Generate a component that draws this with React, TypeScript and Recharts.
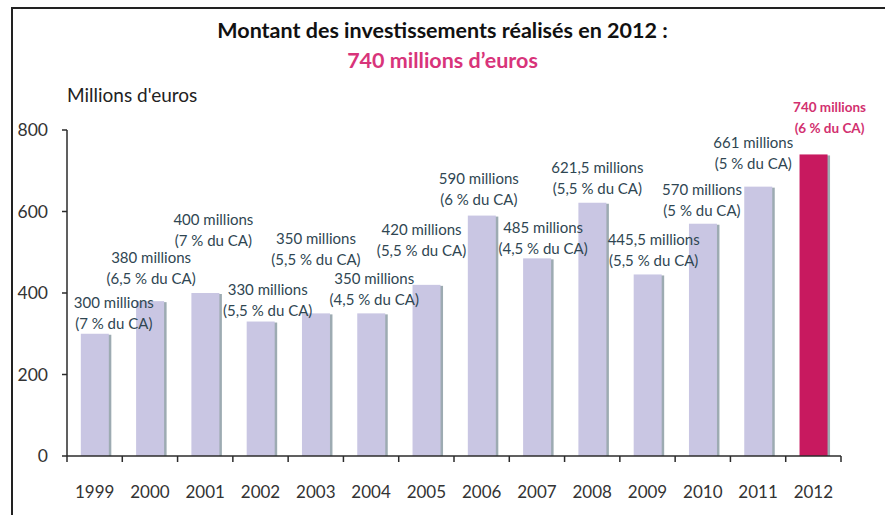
import { BarChart, Bar, XAxis, YAxis, Cell, LabelList } from 'recharts';

const years = ['1999', '2000', '2001', '2002', '2003', '2004', '2005', '2006', '2007', '2008', '2009', '2010', '2011', '2012'];
const amounts = [300, 380, 400, 330, 350, 350, 420, 590, 485, 621.5, 445.5, 570, 661, 740];
const sharesOfCA = ['7', '6,5', '7', '5,5', '5,5', '4,5', '5,5', '6', '4,5', '5,5', '5,5', '5', '5', '6'];
const yTicks = [0, 200, 400, 600, 800];

// hand-placed label offsets (dx from bar centre, dy of first line from bar top), like the original
const labelNudge: [number, number][] = [
  [19, -32], [1, -44], [8, -74], [7, -33], [0, -75], [3, -35], [-5, -56],
  [-3, -38], [6, -31], [5, -36], [6, -35], [-1, -35], [-5, -45], [16, -47],
];

const data = years.map((year, i) => ({ year, value: amounts[i] }));

const LAVENDER = '#c9c6e3';
const PINK = '#c8195f';
const TEXT = '#2f4652';
const AXIS = '#2b2b2b';
const FONT = 'Lato, "Open Sans", sans-serif';

const isLast = (i: number) => i === years.length - 1;

function ShadowBar(props: any) {
  const { x, y, width, height, fill } = props;
  if (!height || height <= 0) return null;
  return (
    <g>
      <rect x={x + 2.5} y={y + 1} width={width} height={height - 1} fill="#8c9ca4" opacity={0.85} />
      <rect x={x} y={y} width={width} height={height} fill={fill} />
    </g>
  );
}

function BarLabel(props: any) {
  const { x, y, width, index } = props;
  const [dx, dy] = labelNudge[index];
  const cx = x + width / 2 + dx;
  const cy = y + dy;
  const last = isLast(index);
  const amount = String(amounts[index]).replace('.', ',');
  const style = {
    fontFamily: FONT,
    fontSize: last ? 13.5 : 15,
    fontWeight: last ? 700 : 400,
    fill: last ? '#d2306f' : TEXT,
  };
  return (
    <g>
      <text x={cx} y={cy} textAnchor="middle" dominantBaseline="central" style={style}>
        {amount} millions
      </text>
      <text x={cx} y={cy + 21} textAnchor="middle" dominantBaseline="central" style={style}>
        ({sharesOfCA[index]} % du CA)
      </text>
    </g>
  );
}

function YearTick(props: any) {
  const { x, y, payload, index } = props;
  const half = payload.offset ?? 774 / 28;
  return (
    <g>
      <line x1={x - half} x2={x - half} y1={y} y2={y + 6} stroke={AXIS} strokeWidth={1.5} />
      {isLast(index) && <line x1={x + half} x2={x + half} y1={y} y2={y + 6} stroke={AXIS} strokeWidth={1.5} />}
      <text x={x} y={y + 35} textAnchor="middle" dominantBaseline="central"
        style={{ fontFamily: FONT, fontSize: 17, fill: '#333' }}>
        {payload.value}
      </text>
    </g>
  );
}

export default function App() {
  return (
    <div style={{
      position: 'absolute', left: 0, top: 0, width: 885, height: 515,
      background: '#fff', overflow: 'hidden', fontFamily: FONT,
    }}>
      <div style={{
        position: 'absolute', left: 11, top: 7, width: 900, height: 540,
        border: '2px solid #222', boxSizing: 'border-box', pointerEvents: 'none',
      }} />

      <div style={{ position: 'absolute', left: 0, width: 885, top: 16, textAlign: 'center' }}>
        <div style={{ fontSize: 21.5, fontWeight: 700, color: '#111', lineHeight: '28px' }}>
          Montant des investissements réalisés en 2012 :
        </div>
        <div style={{ fontSize: 21.5, fontWeight: 700, color: '#d8347a', lineHeight: '28px', marginTop: 2 }}>
          740 millions d’euros
        </div>
      </div>

      <div style={{ position: 'absolute', left: 67, top: 83, fontSize: 19, lineHeight: '24px', color: '#222' }}>
        Millions d'euros
      </div>

      <BarChart
        width={885}
        height={515}
        data={data}
        margin={{ top: 130, right: 44, bottom: 0, left: 12 }}
        barCategoryGap="25%"
      >
        <XAxis
          dataKey="year"
          height={59}
          interval={0}
          tickLine={false}
          tickSize={0}
          tickMargin={0}
          axisLine={{ stroke: AXIS, strokeWidth: 1.5 }}
          tick={<YearTick />}
        />
        <YAxis
          width={55}
          domain={[0, 800]}
          ticks={yTicks}
          interval={0}
          axisLine={{ stroke: AXIS, strokeWidth: 1.5 }}
          tickLine={{ stroke: AXIS, strokeWidth: 1.5 }}
          tickSize={5}
          tickMargin={14}
          tick={{ fontFamily: FONT, fontSize: 17.5, fill: '#333' }}
        />
        <Bar dataKey="value" shape={<ShadowBar />} isAnimationActive={false}>
          {data.map((d, i) => (
            <Cell key={d.year} fill={isLast(i) ? PINK : LAVENDER} />
          ))}
          <LabelList dataKey="value" content={<BarLabel />} />
        </Bar>
      </BarChart>
    </div>
  );
}
